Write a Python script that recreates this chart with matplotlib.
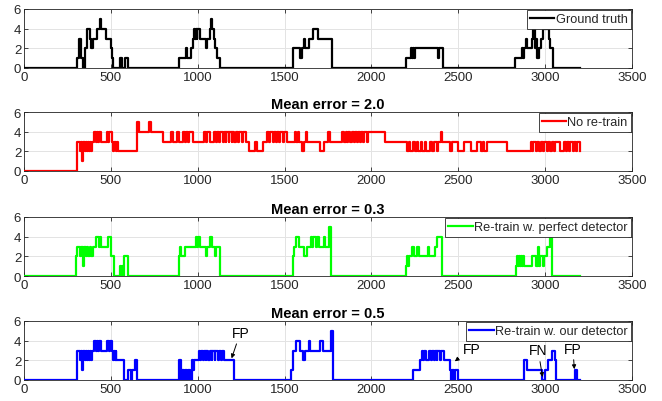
import numpy as np
import matplotlib
matplotlib.use("Agg")
import matplotlib.pyplot as plt

plt.rcParams['font.family'] = ['Liberation Sans', 'DejaVu Sans']

# ---- data: (frame where a level starts, count level) ----
gt_steps = [(0, 0), (303, 1), (318, 3), (326, 1), (341, 0), (350, 2), (364, 4), (380, 3), (388, 2),
            (396, 3), (418, 4), (437, 5), (445, 4), (471, 3), (498, 2), (505, 1), (512, 0),
            (550, 1), (556, 0), (560, 1), (566, 0), (580, 1), (600, 0),
            (890, 1), (930, 2), (936, 1), (963, 2), (970, 3), (978, 4), (983, 3), (988, 4), (994, 3),
            (998, 4), (1012, 3), (1048, 2), (1056, 3), (1068, 4), (1078, 5), (1085, 4), (1092, 3),
            (1100, 2), (1110, 1), (1130, 0),
            (1550, 2), (1590, 1), (1602, 2), (1612, 3), (1618, 2), (1643, 3), (1662, 4), (1694, 3), (1771, 0),
            (2201, 1), (2225, 2), (2232, 1), (2238, 2), (2244, 1), (2250, 2), (2383, 1), (2388, 2), (2412, 0),
            (2825, 1), (2868, 2), (2874, 1), (2880, 2), (2890, 3), (2896, 2), (2925, 3), (2930, 4),
            (2942, 2), (2948, 3), (2955, 1), (2962, 2), (2975, 3), (2988, 4), (3020, 3), (3026, 2),
            (3046, 0), (3200, 0)]

noretrain_steps = [(0, 0), (303, 2), (307, 3), (325, 2), (329, 3), (336, 1), (341, 3), (350, 2), (355, 3),
                   (362, 2), (368, 3), (375, 2), (382, 3), (388, 2), (394, 3), (405, 4), (414, 3), (420, 4),
                   (428, 3), (434, 4), (442, 3), (475, 4), (485, 3), (492, 4), (505, 3), (512, 2), (518, 3),
                   (530, 2), (535, 3), (540, 2), (648, 4), (650, 5), (660, 4), (722, 5), (733, 4), (800, 3),
                   (845, 4), (856, 3), (880, 4), (891, 3), (914, 4), (925, 3), (930, 4), (945, 3), (950, 4),
                   (970, 3), (1038, 4), (1048, 3), (1055, 4), (1072, 3), (1095, 4), (1105, 3), (1110, 4),
                   (1125, 3), (1130, 4), (1145, 3), (1150, 4), (1160, 3), (1165, 4), (1178, 3), (1182, 4),
                   (1195, 3), (1200, 4), (1208, 3), (1219, 4), (1232, 3), (1238, 4), (1255, 3), (1260, 4),
                   (1276, 3), (1298, 2), (1332, 3), (1344, 2), (1378, 3), (1400, 4), (1410, 3), (1418, 4),
                   (1432, 3), (1438, 4), (1450, 3), (1455, 4), (1470, 3), (1475, 4), (1490, 3), (1495, 4),
                   (1513, 3), (1558, 4), (1566, 3), (1575, 4), (1583, 3), (1600, 2), (1612, 3), (1622, 4),
                   (1628, 3), (1706, 2), (1728, 3), (1751, 4), (1762, 3), (1830, 4), (1841, 3), (1853, 4),
                   (1860, 3), (1866, 4), (1875, 3), (1887, 4), (1898, 3), (1903, 4), (1915, 3), (1920, 4),
                   (1935, 3), (1940, 4), (1950, 3), (1955, 4), (1975, 3), (1980, 4), (2079, 3),
                   (2203, 2), (2215, 3), (2222, 2), (2240, 3), (2248, 2), (2262, 3), (2268, 2), (2285, 3),
                   (2292, 2), (2310, 3), (2316, 2), (2340, 3), (2346, 2), (2360, 3), (2375, 2), (2385, 3),
                   (2400, 4), (2407, 3), (2452, 2), (2463, 3), (2497, 2), (2531, 3), (2576, 2), (2610, 3),
                   (2630, 2), (2645, 3), (2650, 2), (2665, 3), (2780, 2), (2916, 3), (2925, 2), (2932, 3),
                   (2945, 2), (2952, 3), (2965, 2), (2975, 3), (2985, 2), (2995, 3), (3010, 2), (3015, 3),
                   (3030, 2), (3040, 3), (3050, 2), (3055, 3), (3085, 2), (3108, 3), (3118, 2), (3125, 3),
                   (3140, 2), (3145, 3), (3160, 2), (3165, 3), (3180, 2), (3185, 3), (3200, 2)]

perfect_steps = [(0, 0), (300, 2), (304, 3), (325, 2), (330, 3), (340, 1), (346, 3), (355, 2), (362, 3),
                 (370, 2), (378, 3), (385, 2), (395, 3), (413, 4), (430, 3), (440, 4), (446, 3), (485, 4),
                 (500, 3), (503, 2), (516, 0), (550, 1), (560, 0), (566, 1), (572, 0), (578, 2), (600, 0),
                 (891, 2), (897, 3), (904, 2), (925, 3), (988, 4), (998, 3), (1002, 4), (1012, 3),
                 (1045, 2), (1052, 3), (1068, 4), (1080, 3), (1100, 2), (1106, 3), (1127, 0),
                 (1546, 2), (1552, 3), (1563, 4), (1582, 3), (1610, 2), (1630, 3), (1650, 4), (1660, 3),
                 (1665, 4), (1680, 3), (1685, 4), (1700, 3), (1725, 4), (1735, 3), (1757, 5), (1766, 0),
                 (2201, 1), (2206, 2), (2212, 1), (2218, 2), (2235, 3), (2243, 2), (2265, 3), (2272, 2),
                 (2325, 3), (2333, 2), (2365, 3), (2378, 4), (2405, 0),
                 (2832, 1), (2838, 2), (2843, 1), (2848, 2), (2854, 1), (2860, 2), (2866, 1), (2872, 2),
                 (2878, 1), (2922, 2), (2950, 1), (2958, 3), (2964, 1), (2972, 2), (2990, 1), (2996, 2),
                 (3010, 3), (3027, 4), (3040, 0), (3200, 0)]

ours_steps = [(0, 0), (303, 2), (307, 3), (325, 2), (329, 3), (336, 1), (341, 3), (350, 2), (355, 3),
              (362, 2), (368, 3), (375, 2), (382, 3), (388, 2), (394, 3), (405, 4), (414, 3), (420, 4),
              (428, 3), (434, 4), (442, 3), (477, 4), (490, 3), (495, 4), (507, 3), (512, 2), (517, 3),
              (522, 2), (527, 3), (532, 2), (575, 0), (598, 1), (615, 0), (620, 1), (638, 2), (648, 0),
              (895, 2), (902, 0), (912, 1), (920, 0), (928, 1), (938, 0), (945, 1), (958, 0), (965, 2),
              (972, 1), (978, 2), (1005, 3), (1012, 2), (1018, 3), (1030, 2), (1035, 3), (1045, 2),
              (1050, 3), (1062, 2), (1068, 3), (1080, 2), (1085, 3), (1098, 2), (1102, 3), (1115, 2),
              (1120, 3), (1135, 2), (1140, 3), (1150, 2), (1210, 0),
              (1536, 1), (1550, 3), (1565, 4), (1586, 3), (1604, 2), (1617, 3), (1638, 4), (1649, 3),
              (1706, 4), (1721, 3), (1769, 5), (1778, 0),
              (2237, 1), (2282, 2), (2290, 3), (2295, 2), (2305, 3), (2312, 2), (2330, 3), (2345, 2),
              (2350, 3), (2360, 2), (2365, 3), (2375, 2), (2380, 3), (2395, 2), (2400, 3), (2418, 2),
              (2452, 1), (2460, 0), (2466, 1), (2475, 0), (2480, 1), (2500, 0),
              (2877, 2), (2893, 1), (2980, 0), (2998, 1), (3018, 2), (3040, 3), (3055, 2), (3062, 0),
              (3170, 1), (3185, 0), (3200, 0)]

series_labels = ['Ground truth', 'No re-train', 'Re-train w. perfect detector', 'Re-train w. our detector']
series_colors = ['black', '#ff0000', '#00ff00', '#0000ff']
titles = [None, 'Mean error = 2.0', 'Mean error = 0.3', 'Mean error = 0.5']

# annotations on last panel: (text, text_x, text_y, tip_x, tip_y)
annots = [('FP', 1245, 4.8, 1195, 2.2), ('FP', 2575, 3.2, 2480, 1.9),
          ('FN', 2960, 3.0, 2985, 0.3), ('FP', 3160, 3.2, 3168, 1.1)]

x_ticks = np.arange(0, 3501, 500)
y_ticks = [0, 2, 4, 6]

# ---- figure ----
W, H = 662, 402
fig = plt.figure(figsize=(W / 100, H / 100), dpi=100)
tops = [10, 113, 218, 322]
ax_h = 59
left, right = 24, 632

all_steps = [gt_steps, noretrain_steps, perfect_steps, ours_steps]
axes = []
for i, steps in enumerate(all_steps):
    bottom = tops[i] + ax_h
    ax = fig.add_axes([left / W, 1 - bottom / H, (right - left) / W, ax_h / H])
    xs = [p[0] for p in steps]
    ys = [p[1] for p in steps]
    ax.step(xs, ys, where='post', color=series_colors[i], lw=1.6, label=series_labels[i], zorder=3)
    ax.set_xlim(0, 3500)
    ax.set_ylim(0, 6)
    ax.set_xticks(x_ticks)
    ax.set_yticks(y_ticks)
    ax.grid(True, color='#e3e3e3', lw=0.7, zorder=0)
    ax.set_axisbelow(True)
    ax.tick_params(direction='in', length=3, width=0.6, top=True, right=True,
                   labelsize=9.5, pad=2, colors='#262626')
    for sp in ax.spines.values():
        sp.set_linewidth(0.6)
        sp.set_color('#262626')
    if titles[i]:
        ax.set_title(titles[i], fontsize=10.5, fontweight='bold', pad=3)
    leg = ax.legend(loc='upper right', fontsize=9.2, frameon=True, fancybox=False,
                    edgecolor='#262626', framealpha=1, borderaxespad=0.1,
                    handlelength=1.9, handletextpad=0.1, borderpad=0.25)
    leg.get_frame().set_linewidth(0.6)
    for t in leg.get_texts():
        t.set_color('#262626')
    axes.append(ax)

ax = axes[3]
for txt, tx, ty, px, py in annots:
    ax.annotate(txt, xy=(px, py), xytext=(tx, ty), fontsize=10, ha='center', va='center',
                arrowprops=dict(arrowstyle='-|>', color='black', lw=0.7, mutation_scale=6,
                                shrinkA=1, shrinkB=0), zorder=5)

fig.savefig('out.png', dpi=100)
